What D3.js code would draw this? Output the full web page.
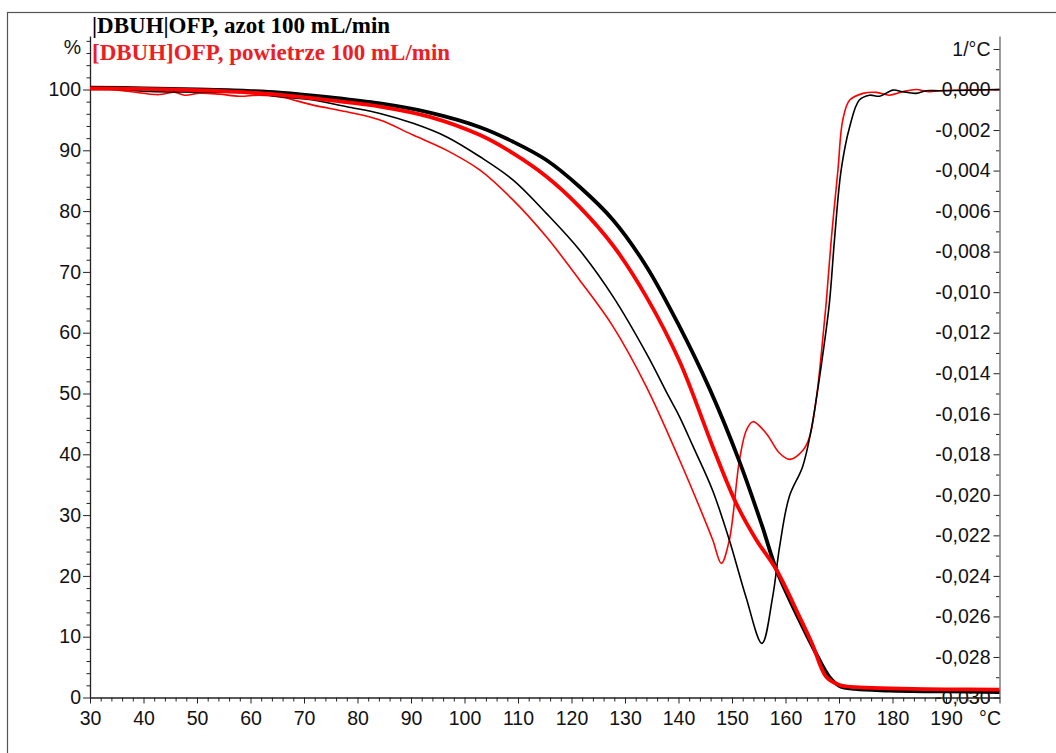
<!DOCTYPE html>
<html lang="pl">
<head>
<meta charset="UTF-8">
<title>TG / DTG [DBUH]OFP</title>
<script src="https://cdn.jsdelivr.net/npm/d3@7"></script>
<style>
  body { margin: 0; background: #fff; }
  svg text { font-family: "Liberation Sans", Arial, sans-serif; fill: #111; }
</style>
</head>
<body>
<svg id="chart" width="1056" height="753"></svg>
<script>
// --- data ---
// TG, nitrogen (thick black), %
var tgAzotT = [30, 40, 50, 60, 65.5, 75, 84.2, 93.5, 102.9, 109.1, 115.3, 121.5, 127.8, 134.0, 140.2, 145.8, 151.4, 155.6, 158.3, 162.6, 165.5, 168.2, 170.1, 173, 179.4, 190, 200];
var tgAzot  = [100.3, 100.2, 100.0, 99.75, 99.5, 98.7, 97.7, 96.2, 93.8, 91.4, 88.4, 84.0, 78.5, 70.9, 61.0, 50.8, 38.8, 28.3, 21.0, 12.7, 7.6, 3.4, 1.9, 1.4, 1.15, 1.0, 0.9];

// TG, air (thick red), %
var tgPowT = [30, 40, 50, 60, 65.5, 75, 84.2, 93.5, 102.9, 109.1, 115.3, 121.5, 127.8, 134.0, 140.2, 146.4, 150.8, 154.5, 158.3, 162.6, 165.0, 167.6, 170.1, 173, 179.4, 190, 200];
var tgPow  = [100.2, 100.1, 99.9, 99.5, 99.1, 98.2, 97.2, 95.5, 92.5, 89.5, 85.7, 80.7, 74.3, 65.9, 55.3, 41.25, 31.9, 26.0, 21.0, 13.3, 8.8, 3.4, 2.05, 1.7, 1.5, 1.35, 1.3];

// DTG, nitrogen (thin black), 1/°C
var dtgAzotT = [30, 35.6, 41.2, 50.5, 59.8, 65.5, 71.7, 78.0, 84.2, 90.4, 96.6, 102.9, 109.1, 115.3, 121.5, 127.8, 134.0, 138.2, 140.2, 142.7, 146.4, 149.5, 152.6, 155.6, 157.6, 158.9, 160.7, 163.2, 164.8, 166.1, 167.0, 168.2, 169.2, 170.4, 172.0, 173.8, 175.7, 177.6, 180.1, 181.9, 184.4, 186.3, 188.8, 200];
var dtgAzot  = [0.0000, 0.0000, -0.0001, -0.00013, -0.00018, -0.00036, -0.00052, -0.00085, -0.00118, -0.00167, -0.00233, -0.00332, -0.00447, -0.00611, -0.00792, -0.01023, -0.01302, -0.01516, -0.01615, -0.0176, -0.0198, -0.02223, -0.02503, -0.02733, -0.02503, -0.02256, -0.02009, -0.01861, -0.0168, -0.01467, -0.01302, -0.01055, -0.00727, -0.00398, -0.00184, -0.00052, -0.00028, -0.00033, -0.00003, -0.00011, -0.00019, -0.00006, -0.00006, 0.0000];

// DTG, air (thin red), 1/°C
var dtgPowT = [30, 33.7, 37.4, 42.9, 45.8, 47.7, 50.5, 54.2, 57.9, 61.6, 65.5, 71.7, 78.0, 84.2, 90.4, 96.6, 102.9, 109.1, 115.3, 121.5, 127.8, 134.0, 140.2, 143.9, 146.4, 148.0, 149.5, 151.4, 152.7, 153.9, 156.4, 158.9, 160.8, 163.3, 164.5, 165.8, 166.7, 167.6, 168.6, 169.8, 170.7, 172.0, 174.5, 177.0, 179.4, 181.9, 184.4, 186.9, 188.8, 200];
var dtgPow  = [0.0000, 0.0000, -0.0001, -0.00025, -0.00013, -0.00028, -0.00018, -0.00023, -0.00033, -0.00028, -0.00036, -0.00077, -0.0011, -0.00151, -0.00225, -0.00299, -0.00398, -0.00546, -0.00727, -0.0094, -0.01171, -0.01467, -0.01828, -0.02059, -0.02223, -0.02338, -0.02223, -0.01828, -0.0168, -0.01639, -0.01697, -0.01795, -0.01825, -0.01779, -0.01713, -0.01516, -0.01302, -0.01055, -0.00727, -0.00398, -0.00151, -0.00052, -0.00019, -0.00014, -0.00028, -0.00011, 0.0000, -0.00011, -0.00006, 0.0000];

// ticks
var xTicks = [30, 40, 50, 60, 70, 80, 90, 100, 110, 120, 130, 140, 150, 160, 170, 180, 190, 200];
var xTickLabels = ["30", "40", "50", "60", "70", "80", "90", "100", "110", "120", "130", "140", "150", "160", "170", "180", "190", "°C"];
var leftTicks = [0, 10, 20, 30, 40, 50, 60, 70, 80, 90, 100];
var rightTicks = [0.002, 0, -0.002, -0.004, -0.006, -0.008, -0.010, -0.012, -0.014, -0.016, -0.018, -0.020, -0.022, -0.024, -0.026, -0.028, -0.030];
var legendLabels = ["|DBUH|OFP, azot 100 mL/min", "[DBUH]OFP, powietrze 100 mL/min"];

var xMinor = d3.range(32, 200, 2).filter(function(d){ return d % 10 !== 0; });
var leftMinor = d3.range(2, 109, 2).filter(function(d){ return d % 10 !== 0; });
var rightMinor = d3.range(-29, 2, 2).map(function(d){ return d / 1000; });

var RED = "#ff0000";

var svg = d3.select("#chart");

var x = d3.scaleLinear().domain([30, 200]).range([90, 999.5]);
var yL = d3.scaleLinear().domain([0, 108.8]).range([697.5, 36]);
var yR = d3.scaleLinear().domain([-0.030, 0.00264]).range([697.5, 36]);

var fmt = d3.formatLocale({decimal: ",", thousands: ".", grouping: [3], currency: ["", ""], minus: "-"}).format(".3f");

// outer frame
svg.append("rect")
    .attr("x", 7.5).attr("y", 12.5)
    .attr("width", 1100).attr("height", 800)
    .attr("fill", "none").attr("stroke", "#555").attr("stroke-width", 1.2);

function styleAxis(g) {
    g.attr("font-size", null).attr("font-family", null);
    g.selectAll("line").attr("stroke", "#222");
    g.selectAll("path.domain").attr("stroke", "#222").attr("stroke-width", 1.3);
    g.selectAll("text").style("font-size", "19.5px");
}

// left axis
var gLm = svg.append("g").attr("transform", "translate(90,0)")
    .call(d3.axisLeft(yL).tickValues(leftMinor).tickSize(3.5).tickFormat(""));
gLm.select(".domain").remove();
styleAxis(gLm);
var gL = svg.append("g").attr("transform", "translate(90,0)")
    .call(d3.axisLeft(yL).tickValues(leftTicks).tickSize(7).tickSizeOuter(0).tickPadding(2));
styleAxis(gL);

svg.append("text")
    .attr("x", 81).attr("y", 47).attr("dy", "0.35em")
    .attr("text-anchor", "end")
    .style("font-size", "19.5px")
    .text("%");

// right axis
var gRm = svg.append("g").attr("transform", "translate(999.5,0)")
    .call(d3.axisLeft(yR).tickValues(rightMinor).tickSize(3.5).tickFormat(""));
gRm.select(".domain").remove();
styleAxis(gRm);
var gR = svg.append("g").attr("transform", "translate(999.5,0)")
    .call(d3.axisLeft(yR).tickValues(rightTicks).tickSize(6).tickSizeOuter(0).tickPadding(3)
        .tickFormat(function(d){ return d === 0.002 ? "1/°C" : fmt(d); }));
styleAxis(gR);
gR.select(".domain").attr("stroke", "#666");

// bottom axis
var gXm = svg.append("g").attr("transform", "translate(0,697.5)")
    .call(d3.axisBottom(x).tickValues(xMinor).tickSize(4).tickFormat(""));
gXm.select(".domain").remove();
styleAxis(gXm);
var gX = svg.append("g").attr("transform", "translate(0,697.5)")
    .call(d3.axisBottom(x).tickValues(xTicks).tickSize(6).tickSizeOuter(0).tickPadding(8)
        .tickFormat(function(d, i){ return xTickLabels[i]; }));
styleAxis(gX);
gX.selectAll(".tick").filter(function(d){ return d === 200; })
    .select("text").attr("text-anchor", "end").attr("x", 1);

// curves
var curve = d3.curveCatmullRom.alpha(0.5);
var lineL = d3.line().x(function(d){ return x(d[0]); }).y(function(d){ return yL(d[1]); }).curve(curve);
var lineR = d3.line().x(function(d){ return x(d[0]); }).y(function(d){ return yR(d[1]); }).curve(curve);

svg.append("path").datum(d3.zip(dtgPowT, dtgPow))
    .attr("d", lineR).attr("fill", "none").attr("stroke", RED).attr("stroke-width", 1.6);
svg.append("path").datum(d3.zip(dtgAzotT, dtgAzot))
    .attr("d", lineR).attr("fill", "none").attr("stroke", "#000").attr("stroke-width", 1.6);
svg.append("path").datum(d3.zip(tgAzotT, tgAzot))
    .attr("d", lineL).attr("fill", "none").attr("stroke", "#000").attr("stroke-width", 3.8);
svg.append("path").datum(d3.zip(tgPowT, tgPow))
    .attr("d", lineL).attr("fill", "none").attr("stroke", RED).attr("stroke-width", 3.8);

// legend
svg.selectAll("text.legend")
    .data(legendLabels)
    .enter().append("text")
    .attr("class", "legend")
    .attr("x", 92)
    .attr("y", function(d, i){ return 33 + i * 27; })
    .style("font-family", "'Liberation Serif', 'Times New Roman', serif")
    .style("font-weight", "bold")
    .style("font-size", "23px")
    .style("fill", function(d, i){ return i === 0 ? "#000" : "#ee1d23"; })
    .text(function(d){ return d; });
</script>
</body>
</html>
